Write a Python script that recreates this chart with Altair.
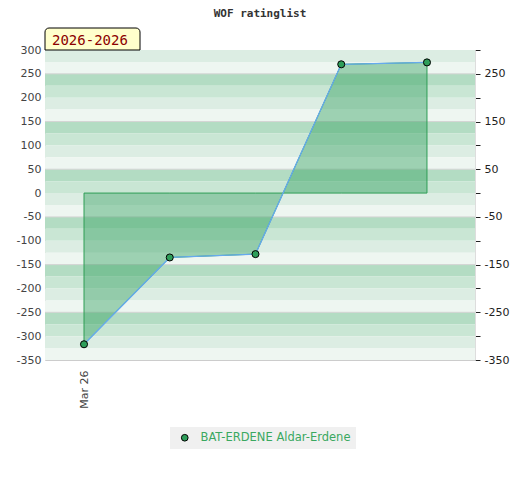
import altair as alt
import pandas as pd

# ---- data ----
player = "BAT-ERDENE Aldar-Erdene"
x_index = [0, 1, 2, 3, 4]
ratings = [-317, -135, -128, 270, 274]
x_tick_values = [0]
x_tick_labels = ["Mar 26"]
period_label = "2026-2026"
chart_title = "WOF ratinglist"

# background bands (25-unit stripes, 4-shade cycle)
band_tops = list(range(300, -350, -25))
band_shades = []
for t in band_tops:
    r = (300 - t) % 100
    band_shades.append(["light", "lightest", "dark", "medium"][r // 25])
bands = pd.DataFrame({"top": band_tops, "bottom": [t - 25 for t in band_tops], "shade": band_shades})
grid_values = [250, 150, 50, -50, -150, -250]
grid = pd.DataFrame({"v": grid_values})

df = pd.DataFrame({"x": x_index, "rating": ratings, "player": [player] * len(x_index)})

Y_DOM = [-350, 300]
X_DOM = [-0.455, 4.56]
GREEN = "#2e9e5a"

yscale = alt.Scale(domain=Y_DOM, nice=False, zero=False)
xscale = alt.Scale(domain=X_DOM, nice=False, zero=False)

band_layer = alt.Chart(bands).mark_rect().encode(
    x=alt.value(0), x2=alt.value(430),
    y=alt.Y("top:Q", scale=yscale, axis=alt.Axis(
        orient="left", values=list(range(-350, 301, 50)), grid=False, ticks=False,
        labelExpr="'' + datum.value",
        domainColor="#cccccc", labelColor="#444444", labelFont="DejaVu Sans",
        labelFontSize=11, labelPadding=4, title=None)),
    y2="bottom:Q",
    color=alt.Color("shade:N", legend=None, scale=alt.Scale(
        domain=["dark", "medium", "light", "lightest"],
        range=["#b3dcc3", "#c9e6d4", "#dcede3", "#eef6f1"])),
)

grid_layer = alt.Chart(grid).mark_rule(color="#d4d4d4", strokeWidth=1).encode(
    y=alt.Y("v:Q", scale=yscale, axis=alt.Axis(
        orient="right", values=list(range(-350, 301, 50)),
        labelExpr="abs(datum.value) % 100 == 50 ? '' + datum.value : ''",
        grid=False, ticks=True, tickSize=5, tickColor="#222222",
        domainColor="#dddddd", labelColor="#222222", labelFont="DejaVu Sans",
        labelFontSize=11, labelPadding=4, title=None)),
    x=alt.value(0), x2=alt.value(430),
)

area = alt.Chart(df).mark_area(
    color=GREEN, fillOpacity=0.42, stroke="#2e9e55", strokeWidth=1
).encode(
    x=alt.X("x:Q", scale=xscale, axis=alt.Axis(
        values=x_tick_values,
        labelExpr="datum.value == 0 ? '" + x_tick_labels[0] + "' : ''",
        labelAngle=270, labelAlign="right", labelBaseline="middle",
        ticks=False, grid=False, domainColor="#cccccc", labelColor="#444444",
        labelFont="DejaVu Sans", labelFontSize=11, labelPadding=10, title=None)),
    y=alt.Y("rating:Q", scale=yscale, axis=None),
    y2=alt.datum(0),
)

line = alt.Chart(df).mark_line(color="#66aaee", strokeWidth=1.3).encode(
    x=alt.X("x:Q", scale=xscale),
    y=alt.Y("rating:Q", scale=yscale, axis=None),
)

points = alt.Chart(df).mark_point(
    filled=True, size=50, shape="circle", stroke="black", strokeWidth=1, opacity=1,
    fillOpacity=1
).encode(
    x=alt.X("x:Q", scale=xscale),
    y=alt.Y("rating:Q", scale=yscale, axis=None),
    fill=alt.Fill("player:N", scale=alt.Scale(range=[GREEN]), legend=alt.Legend(
        title=None, orient="none", legendX=125, legendY=377, fillColor="#f0f0f0",
        padding=5, symbolType="circle", symbolSize=45, symbolStrokeColor="black",
        symbolStrokeWidth=1, symbolFillColor=GREEN, labelColor="#3aa860",
        labelFont="DejaVu Sans", labelFontSize=11.5, symbolOffset=4, labelOffset=10)),
)

label_df = pd.DataFrame({"t": [period_label]})
box = alt.Chart(label_df).mark_rect(
    fill="#ffffcc", stroke="black", strokeWidth=1,
    cornerRadiusTopLeft=4, cornerRadiusTopRight=4
).encode(x=alt.value(0), x2=alt.value(95), y=alt.value(-22), y2=alt.value(0))
box_text = alt.Chart(label_df).mark_text(
    font="DejaVu Sans Mono", fontSize=14, color="#8b0000", align="left", baseline="alphabetic"
).encode(text="t:N", x=alt.value(7), y=alt.value(-5))

title_df = pd.DataFrame({"t": [chart_title]})
title_text = alt.Chart(title_df).mark_text(
    font="DejaVu Sans Mono", fontSize=11, fontWeight="bold", color="#333333",
    align="center", baseline="alphabetic"
).encode(text="t:N", x=alt.value(215), y=alt.value(-33))

chart = alt.layer(
    band_layer, grid_layer, area, line, points, box, box_text, title_text
).resolve_axis(y="independent").properties(
    width=430, height=310,
    padding={"left": 37, "top": 42, "right": 36, "bottom": 100},
    autosize=alt.AutoSizeParams(type="none"),
).configure_view(stroke=None)

chart.save("out.html", embed_options={"renderer": "svg", "actions": False})
